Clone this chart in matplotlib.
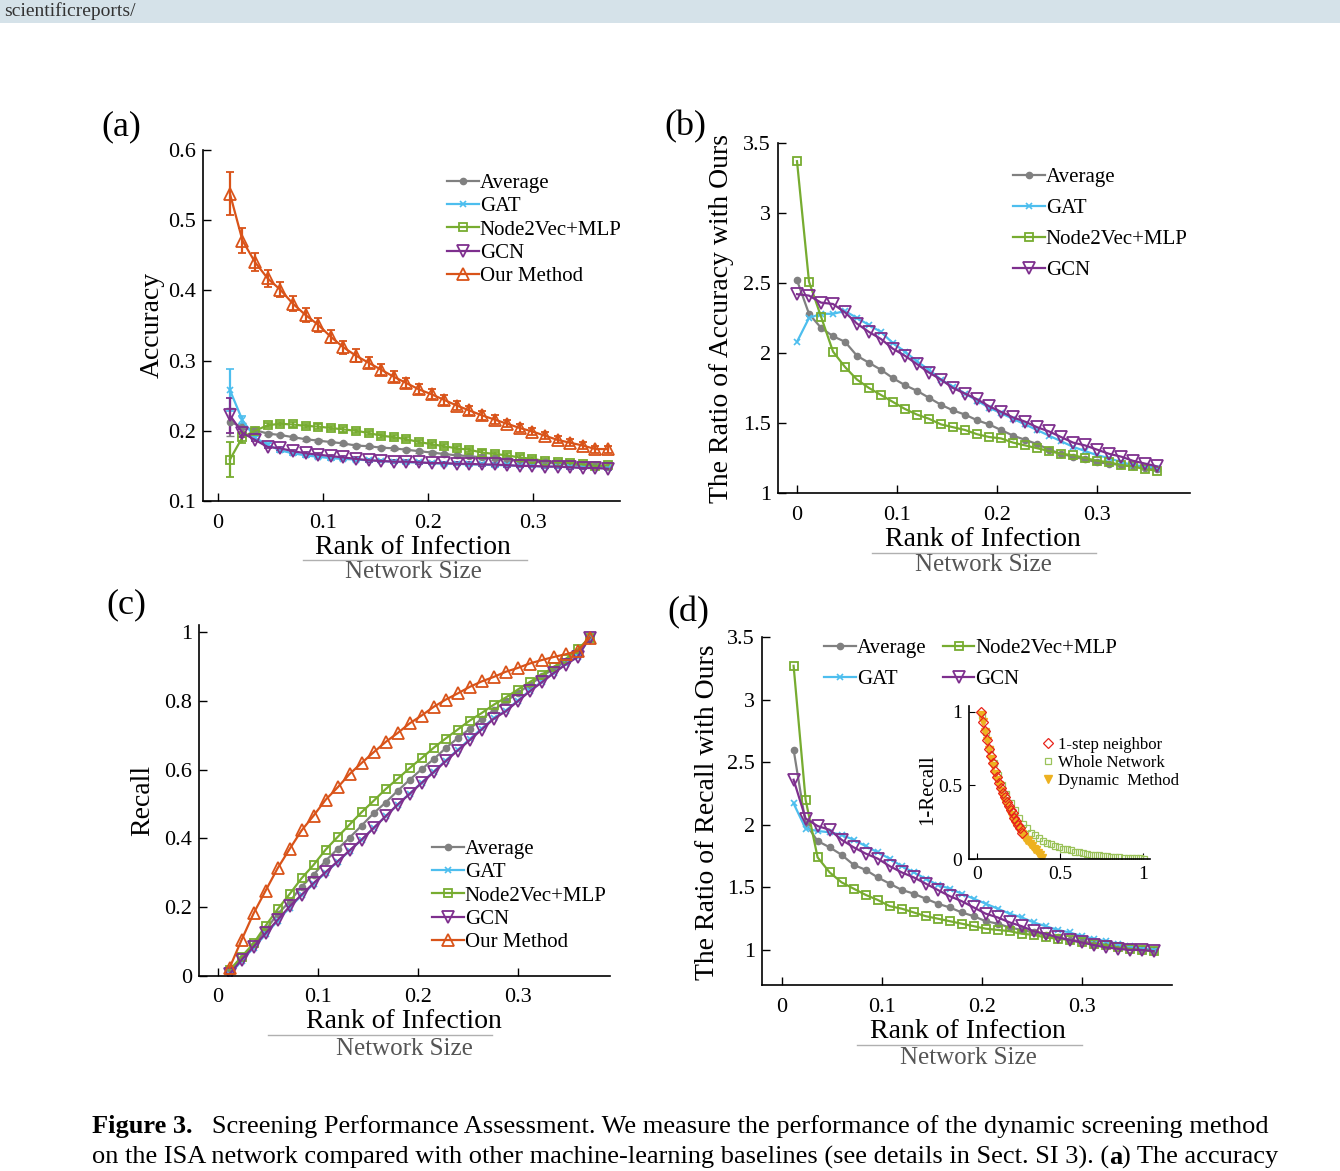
import numpy as np
import matplotlib
matplotlib.use("Agg")
import matplotlib.pyplot as plt
from matplotlib.lines import Line2D
from matplotlib.patches import Rectangle

plt.rcParams.update({
    "font.family": ["Liberation Serif", "DejaVu Serif"],
    "font.size": 16,
    "xtick.direction": "in",
    "ytick.direction": "in",
    "xtick.labelsize": 16,
    "ytick.labelsize": 16,
    "axes.linewidth": 1.2,
})

W, H = 1340, 1171

# ── data ─────────────────────────────────────────────────────────────
x_a = np.round(0.0116 + 0.012 * np.arange(31), 4)
x_b = np.round(0.012 * np.arange(31), 4)
x_c = np.round(0.0116 + 0.012 * np.arange(31), 4)

acc_our = [0.538, 0.471, 0.440, 0.417, 0.401, 0.381, 0.365, 0.351, 0.334, 0.319, 0.307,
           0.297, 0.287, 0.277, 0.268, 0.259, 0.252, 0.244, 0.236, 0.229, 0.222, 0.216,
           0.210, 0.204, 0.199, 0.193, 0.187, 0.183, 0.179, 0.174, 0.174]
acc_our_err = [0.03, 0.018, 0.013, 0.012, 0.011, 0.011, 0.010, 0.010, 0.009, 0.009, 0.009,
               0.008, 0.008, 0.008, 0.007, 0.007, 0.007, 0.007, 0.006, 0.006, 0.006, 0.006,
               0.005, 0.005, 0.005, 0.005, 0.005, 0.005, 0.005, 0.005, 0.005]
acc_n2v = [0.159, 0.191, 0.200, 0.208, 0.210, 0.209, 0.207, 0.206, 0.204, 0.202, 0.200,
           0.197, 0.193, 0.191, 0.188, 0.184, 0.181, 0.178, 0.175, 0.173, 0.169, 0.167,
           0.165, 0.162, 0.160, 0.157, 0.155, 0.154, 0.152, 0.150, 0.151]
acc_n2v_err = [0.025, 0.008] + [0.003] * 29
acc_avg = [0.213, 0.205, 0.201, 0.196, 0.194, 0.191, 0.188, 0.186, 0.184, 0.182, 0.179,
           0.178, 0.176, 0.175, 0.173, 0.171, 0.169, 0.167, 0.165, 0.164, 0.162, 0.161,
           0.159, 0.157, 0.156, 0.155, 0.153, 0.152, 0.151, 0.150, 0.149]
acc_avg_err = [0.02, 0.006, 0.005] + [0.002] * 28
acc_gat = [0.258, 0.215, 0.190, 0.180, 0.172, 0.168, 0.165, 0.163, 0.161, 0.160, 0.159,
           0.158, 0.157, 0.156, 0.155, 0.155, 0.154, 0.153, 0.153, 0.152, 0.152, 0.151,
           0.151, 0.150, 0.150, 0.149, 0.149, 0.148, 0.148, 0.147, 0.147]
acc_gat_err = [0.03, 0.006] + [0.002] * 29
acc_gcn = [0.222, 0.197, 0.187, 0.177, 0.175, 0.171, 0.168, 0.166, 0.164, 0.162, 0.160,
           0.158, 0.157, 0.156, 0.156, 0.155, 0.154, 0.154, 0.153, 0.153, 0.152, 0.152,
           0.151, 0.150, 0.150, 0.149, 0.149, 0.148, 0.147, 0.147, 0.146]
acc_gcn_err = [0.025, 0.006] + [0.002] * 29

ratio_n2v = [3.37, 2.51, 2.26, 2.01, 1.90, 1.81, 1.75, 1.70, 1.65, 1.60, 1.56, 1.53, 1.49,
             1.47, 1.45, 1.42, 1.40, 1.39, 1.36, 1.34, 1.32, 1.30, 1.28, 1.27, 1.25, 1.23,
             1.22, 1.20, 1.19, 1.17, 1.16]
ratio_avg = [2.52, 2.28, 2.18, 2.12, 2.08, 1.98, 1.93, 1.88, 1.82, 1.77, 1.73, 1.68, 1.63,
             1.59, 1.56, 1.52, 1.49, 1.45, 1.41, 1.38, 1.35, 1.31, 1.28, 1.26, 1.24, 1.22,
             1.21, 1.20, 1.19, 1.18, 1.17]
ratio_gat = [2.08, 2.25, 2.28, 2.28, 2.30, 2.25, 2.20, 2.15, 2.07, 2.01, 1.94, 1.88, 1.81,
             1.76, 1.71, 1.66, 1.61, 1.57, 1.53, 1.49, 1.45, 1.41, 1.37, 1.33, 1.30, 1.27,
             1.25, 1.22, 1.20, 1.19, 1.18]
ratio_gcn = [2.42, 2.41, 2.36, 2.35, 2.29, 2.21, 2.15, 2.10, 2.03, 1.98, 1.92, 1.86, 1.81,
             1.75, 1.71, 1.67, 1.62, 1.58, 1.54, 1.51, 1.47, 1.44, 1.40, 1.36, 1.34, 1.31,
             1.28, 1.26, 1.23, 1.21, 1.19]

rec_our = [0.024, 0.105, 0.182, 0.248, 0.313, 0.369, 0.423, 0.466, 0.512, 0.548, 0.587,
           0.619, 0.650, 0.680, 0.706, 0.734, 0.757, 0.782, 0.803, 0.821, 0.840, 0.856,
           0.869, 0.884, 0.895, 0.908, 0.918, 0.927, 0.935, 0.944, 0.983]
rec_n2v = [0.017, 0.056, 0.095, 0.146, 0.194, 0.238, 0.284, 0.323, 0.367, 0.404, 0.440,
           0.476, 0.509, 0.543, 0.573, 0.604, 0.633, 0.663, 0.690, 0.716, 0.742, 0.764,
           0.788, 0.809, 0.832, 0.854, 0.875, 0.898, 0.921, 0.949, 0.983]
rec_avg = [0.016, 0.051, 0.090, 0.134, 0.180, 0.216, 0.260, 0.294, 0.335, 0.369, 0.402,
           0.437, 0.473, 0.504, 0.538, 0.570, 0.601, 0.630, 0.662, 0.691, 0.718, 0.747,
           0.772, 0.798, 0.822, 0.846, 0.871, 0.892, 0.914, 0.939, 0.983]
rec_gat = [0.004, 0.044, 0.082, 0.121, 0.160, 0.199, 0.234, 0.268, 0.300, 0.332, 0.364,
           0.396, 0.430, 0.464, 0.498, 0.530, 0.562, 0.594, 0.626, 0.657, 0.688, 0.719,
           0.749, 0.771, 0.800, 0.829, 0.855, 0.881, 0.906, 0.928, 0.983]
rec_gcn = [0.006, 0.047, 0.085, 0.124, 0.163, 0.202, 0.236, 0.270, 0.302, 0.333, 0.365,
           0.396, 0.430, 0.464, 0.498, 0.529, 0.561, 0.592, 0.624, 0.655, 0.685, 0.716,
           0.747, 0.769, 0.798, 0.827, 0.853, 0.880, 0.905, 0.927, 0.983]

rr_n2v = [3.27, 2.20, 1.74, 1.62, 1.54, 1.49, 1.44, 1.40, 1.35, 1.33, 1.30, 1.27, 1.25,
          1.23, 1.21, 1.19, 1.17, 1.16, 1.15, 1.13, 1.12, 1.10, 1.09, 1.08, 1.06, 1.05,
          1.04, 1.02, 1.01, 1.00, 0.99]
rr_avg = [2.60, 2.01, 1.87, 1.82, 1.76, 1.68, 1.64, 1.58, 1.53, 1.48, 1.45, 1.41, 1.37,
          1.34, 1.30, 1.27, 1.23, 1.21, 1.18, 1.16, 1.14, 1.12, 1.10, 1.08, 1.07, 1.05,
          1.04, 1.03, 1.02, 1.01, 1.00]
rr_gat = [2.17, 1.97, 1.95, 1.94, 1.92, 1.88, 1.83, 1.78, 1.73, 1.67, 1.62, 1.57, 1.52,
          1.49, 1.45, 1.41, 1.37, 1.33, 1.29, 1.26, 1.22, 1.19, 1.16, 1.14, 1.11, 1.09,
          1.07, 1.05, 1.03, 1.01, 1.00]
rr_gcn = [2.36, 2.05, 1.99, 1.96, 1.88, 1.82, 1.77, 1.73, 1.67, 1.62, 1.58, 1.53, 1.48,
          1.43, 1.39, 1.34, 1.29, 1.26, 1.22, 1.19, 1.15, 1.13, 1.10, 1.08, 1.06, 1.04,
          1.02, 1.01, 1.00, 1.00, 0.99]

# inset: 1-Recall vs Rank of Infection / Network Size
x_step = np.round(0.02 + 0.012 * np.arange(22), 4)
y_step = [1.0, 0.93, 0.87, 0.81, 0.75, 0.70, 0.65, 0.60, 0.56, 0.52, 0.48, 0.45, 0.42,
          0.39, 0.36, 0.33, 0.31, 0.28, 0.26, 0.23, 0.21, 0.18]
x_dyn = np.round(0.02 + 0.012 * np.arange(32), 4)
y_dyn = [0.98, 0.93, 0.86, 0.80, 0.74, 0.68, 0.63, 0.58, 0.54, 0.50, 0.46, 0.42, 0.39,
         0.36, 0.33, 0.30, 0.28, 0.25, 0.23, 0.21, 0.19, 0.17, 0.15, 0.13, 0.12, 0.10,
         0.09, 0.07, 0.06, 0.04, 0.03, 0.01]
x_whole = np.round(0.03 + 0.0243 * np.arange(41), 4)
y_whole = [0.98, 0.86, 0.75, 0.65, 0.57, 0.50, 0.44, 0.38, 0.33, 0.28, 0.24, 0.21, 0.18,
           0.16, 0.14, 0.12, 0.11, 0.10, 0.09, 0.08, 0.07, 0.065, 0.06, 0.05, 0.045, 0.04,
           0.035, 0.03, 0.027, 0.024, 0.02, 0.018, 0.015, 0.013, 0.011, 0.009, 0.007,
           0.006, 0.005, 0.004, 0.003]

C_AVG, C_GAT, C_N2V, C_GCN, C_OUR = "#808080", "#4DBEEE", "#77AC30", "#7E2F8E", "#D95319"

STY = {
    "avg": dict(color=C_AVG, marker="o", ms=4.5, mfc=C_AVG, label="Average"),
    "gat": dict(color=C_GAT, marker="x", ms=4.5, mew=1.2, label="GAT"),
    "n2v": dict(color=C_N2V, marker="s", ms=5.5, mfc="none", mew=1.3, label="Node2Vec+MLP"),
    "gcn": dict(color=C_GCN, marker="v", ms=8, mfc="none", mew=1.3, label="GCN"),
    "our": dict(color=C_OUR, marker="^", ms=8, mfc="none", mew=1.3, label="Our Method"),
}
LEG = dict(frameon=False, fontsize=15, handlelength=1.5, handletextpad=0.05, borderpad=0)

fig = plt.figure(figsize=(W / 100, H / 100), dpi=100)


def add_ax(l, r, t, b):
    return fig.add_axes([l / W, 1 - b / H, (r - l) / W, (b - t) / H])


def fx(x):
    return x / W


def fy(y):
    return 1 - y / H


def style(ax):
    for s in ["top", "right"]:
        ax.spines[s].set_visible(False)
    ax.tick_params(length=6, width=1.0)
    ax.tick_params(axis="y", pad=5)
    ax.tick_params(axis="x", pad=9)


def frac_label(cx, y1, y2, l, r):
    fig.text(fx(cx), fy(y1), "Rank of Infection", ha="center", va="center", fontsize=20)
    fig.add_artist(Line2D([fx(l), fx(r)], [fy(y1 + 13), fy(y1 + 13)], color="#b0b0b0", lw=1))
    fig.text(fx(cx), fy(y2), "Network Size", ha="center", va="center", fontsize=18,
             color="#555555")


# banner
fig.add_artist(Rectangle((0, fy(23)), 1, fy(0) - fy(23), color="#d5e2e9", lw=0))
fig.text(fx(4), fy(11), "scientificreports/", fontsize=14, va="center", color="#333333")

# ── (a) ──
ax = add_ax(203, 620, 150, 501)
handles, labels = [], []
for key, y, e in [("avg", acc_avg, acc_avg_err), ("gat", acc_gat, acc_gat_err),
                  ("n2v", acc_n2v, acc_n2v_err), ("gcn", acc_gcn, acc_gcn_err),
                  ("our", acc_our, acc_our_err)]:
    eb = ax.errorbar(x_a, y, yerr=e, capsize=3, lw=1.6, **STY[key])
    handles.append(eb[0])
    labels.append(STY[key]["label"])
ax.set_xlim(-0.014, 0.383)
ax.set_ylim(0.1, 0.6)
ax.set_xticks([0, 0.1, 0.2, 0.3])
ax.set_xticklabels(["0", "0.1", "0.2", "0.3"])
ax.set_yticks([0.1, 0.2, 0.3, 0.4, 0.5, 0.6])
style(ax)
ax.legend(handles, labels, loc="upper left", bbox_to_anchor=(fx(437), fy(163)),
          bbox_transform=fig.transFigure, labelspacing=0.18, **LEG)
fig.text(fx(152), fy(325), "Accuracy", rotation=90, ha="center", va="center", fontsize=20)
fig.text(fx(121), fy(127), "(a)", ha="center", va="center", fontsize=26)
frac_label(413, 547, 572, 303, 527)

# ── (b) ──
ax = add_ax(778, 1190, 143, 493)
ax.plot(x_b, ratio_avg, lw=1.6, **STY["avg"])
ax.plot(x_b, ratio_gat, lw=1.6, **STY["gat"])
ax.plot(x_b, ratio_n2v, lw=1.6, **STY["n2v"])
ax.plot(x_b, ratio_gcn, lw=1.6, **STY["gcn"])
ax.set_xlim(-0.019, 0.393)
ax.set_ylim(1, 3.5)
ax.set_xticks([0, 0.1, 0.2, 0.3])
ax.set_xticklabels(["0", "0.1", "0.2", "0.3"])
ax.set_yticks([1, 1.5, 2, 2.5, 3, 3.5])
ax.set_yticklabels(["1", "1.5", "2", "2.5", "3", "3.5"])
style(ax)
ax.legend(loc="upper left", bbox_to_anchor=(fx(1003), fy(157)), bbox_transform=fig.transFigure,
          labelspacing=0.55, **LEG)
fig.text(fx(722), fy(318), "The Ratio of Accuracy with Ours", rotation=90, ha="center",
         va="center", fontsize=20)
fig.text(fx(685), fy(127), "(b)", ha="center", va="center", fontsize=26)
frac_label(983, 540, 565, 872, 1096)

# ── (c) ──
ax = add_ax(199, 610, 625, 976)
ax.plot(x_c, rec_avg, lw=1.6, **STY["avg"])
ax.plot(x_c, rec_gat, lw=1.6, **STY["gat"])
ax.plot(x_c, rec_n2v, lw=1.6, **STY["n2v"])
ax.plot(x_c, rec_gcn, lw=1.6, **STY["gcn"])
ax.plot(x_c, rec_our, lw=1.6, **STY["our"])
ax.set_xlim(-0.019, 0.392)
ax.set_ylim(0, 1.02)
ax.set_xticks([0, 0.1, 0.2, 0.3])
ax.set_xticklabels(["0", "0.1", "0.2", "0.3"])
ax.set_yticks([0, 0.2, 0.4, 0.6, 0.8, 1])
ax.set_yticklabels(["0", "0.2", "0.4", "0.6", "0.8", "1"])
style(ax)
ax.legend(loc="upper left", bbox_to_anchor=(fx(422), fy(829)), bbox_transform=fig.transFigure,
          labelspacing=0.18, **LEG)
fig.text(fx(143), fy(800), "Recall", rotation=90, ha="center", va="center", fontsize=20)
fig.text(fx(126), fy(605), "(c)", ha="center", va="center", fontsize=26)
frac_label(404, 1022, 1049, 268, 492)

# ── (d) ──
ax = add_ax(762, 1172, 637, 985)
ax.plot(x_c, rr_avg, lw=1.6, **STY["avg"])
ax.plot(x_c, rr_gat, lw=1.6, **STY["gat"])
ax.plot(x_c, rr_n2v, lw=1.6, **STY["n2v"])
ax.plot(x_c, rr_gcn, lw=1.6, **STY["gcn"])
ax.set_xlim(-0.02, 0.39)
ax.set_ylim(0.72, 3.5)
ax.set_xticks([0, 0.1, 0.2, 0.3])
ax.set_xticklabels(["0", "0.1", "0.2", "0.3"])
ax.set_yticks([1, 1.5, 2, 2.5, 3, 3.5])
ax.set_yticklabels(["1", "1.5", "2", "2.5", "3", "3.5"])
style(ax)
ax.legend(loc="upper left", bbox_to_anchor=(fx(814), fy(628)), bbox_transform=fig.transFigure,
          ncol=2, labelspacing=0.55, columnspacing=0.8, **LEG)
fig.text(fx(707), fy(812), "The Ratio of Recall with Ours", rotation=90, ha="center",
         va="center", fontsize=20)
fig.text(fx(688), fy(613), "(d)", ha="center", va="center", fontsize=26)
frac_label(968, 1032, 1058, 857, 1082)

# inset
ins = add_ax(969, 1150, 706, 859)
ins.plot(x_whole, y_whole, ls="none", marker="s", ms=5, mfc="none", mec="#9BC35A", mew=0.9,
         label="Whole Network")
ins.plot(x_dyn, y_dyn, ls="none", marker="v", ms=6, color="#EDB120", label="Dynamic  Method")
ins.plot(x_step, y_step, ls="none", marker="D", ms=5, mfc="none", mec="#E8231A", mew=0.9,
         label="1-step neighbor")
ins.set_xlim(-0.05, 1.04)
ins.set_ylim(0, 1.04)
ins.set_xticks([0, 0.5, 1])
ins.set_xticklabels(["0", "0.5", "1"])
ins.set_yticks([0, 0.5, 1])
ins.set_yticklabels(["0", "0.5", "1"])
for s in ["top", "right"]:
    ins.spines[s].set_visible(False)
ins.tick_params(length=4, labelsize=14, pad=5)
h, lab = ins.get_legend_handles_labels()
ins.legend([h[2], h[0], h[1]], [lab[2], lab[0], lab[1]], loc="upper left",
           bbox_to_anchor=(fx(1033), fy(729)), bbox_transform=fig.transFigure, frameon=False,
           fontsize=12, handlelength=0.8, handletextpad=0.2, labelspacing=0.1, borderpad=0)
fig.text(fx(928), fy(790), "1-Recall", rotation=90, ha="center", va="center", fontsize=15)

# caption
fig.canvas.draw()
r = fig.canvas.get_renderer()


def run_text(x, y, parts):
    for s, w in parts:
        t = fig.text(fx(x), fy(y), s, fontsize=19, fontweight=w, va="center", ha="left")
        x += t.get_window_extent(renderer=r).width


run_text(92, 1127, [("Figure 3.", "bold"),
                    ("   Screening Performance Assessment. We measure the performance of the "
                     "dynamic screening method", "normal")])
run_text(92, 1157, [("on the ISA network compared with other machine-learning baselines "
                     "(see details in Sect. SI 3). (", "normal"), ("a", "bold"),
                    (") The accuracy", "normal")])

fig.savefig("out.png", dpi=100)
